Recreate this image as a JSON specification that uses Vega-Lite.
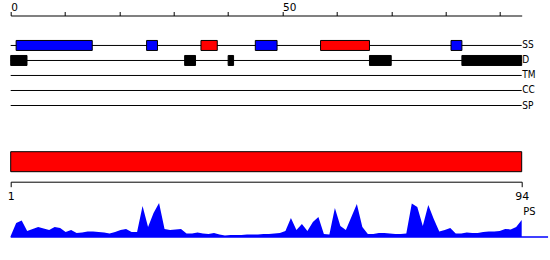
{
  "$schema": "https://vega.github.io/schema/vega-lite/v6.json",
  "padding": {"left": 6.7, "top": 2.5, "right": 0, "bottom": 0},
  "bounds": "flush",
  "spacing": 30.2,
  "config": {"view": {"stroke": null}, "axis": {"grid": false}},
  "datasets": {
    "tracks": [
      {"track": "SS", "start": 0, "end": 94},
      {"track": "D", "start": 0, "end": 94},
      {"track": "TM", "start": 0, "end": 94},
      {"track": "CC", "start": 0, "end": 94},
      {"track": "SP", "start": 0, "end": 94}
    ],
    "features": [
      {"track": "SS", "type": "E", "start": 1, "end": 15},
      {"track": "SS", "type": "E", "start": 25, "end": 27},
      {"track": "SS", "type": "H", "start": 35, "end": 38},
      {"track": "SS", "type": "E", "start": 45, "end": 49},
      {"track": "SS", "type": "H", "start": 57, "end": 66},
      {"track": "SS", "type": "E", "start": 81, "end": 83},
      {"track": "D", "type": "D", "start": 0, "end": 3},
      {"track": "D", "type": "D", "start": 32, "end": 34},
      {"track": "D", "type": "D", "start": 40, "end": 41},
      {"track": "D", "type": "D", "start": 66, "end": 70},
      {"track": "D", "type": "D", "start": 83, "end": 94}
    ],
    "full": [{"name": "protein", "start": 1, "end": 94}],
    "baseline": [{"start": 1, "end": 98.8, "level": 0}],
    "ps": [
      {"r":1,"v":1},{"r":2,"v":14},{"r":3,"v":16.5},{"r":4,"v":6},{"r":5,"v":8},{"r":6,"v":10},{"r":7,"v":8.5},{"r":8,"v":7},{"r":9,"v":10},{"r":10,"v":9},
      {"r":11,"v":5},{"r":12,"v":7},{"r":13,"v":4},{"r":14,"v":4.5},{"r":15,"v":5.5},{"r":16,"v":5.5},{"r":17,"v":5},{"r":18,"v":4.5},{"r":19,"v":3.5},{"r":20,"v":5},
      {"r":21,"v":7},{"r":22,"v":8},{"r":23,"v":5},{"r":24,"v":5},{"r":25,"v":31},{"r":26,"v":10},{"r":27,"v":24},{"r":28,"v":34},{"r":29,"v":8},{"r":30,"v":7},
      {"r":31,"v":7.5},{"r":32,"v":8},{"r":33,"v":3.5},{"r":34,"v":3.5},{"r":35,"v":4.5},{"r":36,"v":3.5},{"r":37,"v":3},{"r":38,"v":4},{"r":39,"v":2.5},{"r":40,"v":1.5},
      {"r":41,"v":2},{"r":42,"v":2},{"r":43,"v":2},{"r":44,"v":2.5},{"r":45,"v":2.5},{"r":46,"v":2.5},{"r":47,"v":3},{"r":48,"v":3},{"r":49,"v":3.5},{"r":50,"v":4},
      {"r":51,"v":6},{"r":52,"v":19},{"r":53,"v":7},{"r":54,"v":13},{"r":55,"v":6},{"r":56,"v":15},{"r":57,"v":20},{"r":58,"v":3},{"r":59,"v":2.5},{"r":60,"v":29},
      {"r":61,"v":11},{"r":62,"v":7},{"r":63,"v":20},{"r":64,"v":33},{"r":65,"v":10},{"r":66,"v":3},{"r":67,"v":3},{"r":68,"v":4},{"r":69,"v":4},{"r":70,"v":3.5},
      {"r":71,"v":3},{"r":72,"v":3},{"r":73,"v":3.5},{"r":74,"v":33.5},{"r":75,"v":30},{"r":76,"v":11},{"r":77,"v":32},{"r":78,"v":18},{"r":79,"v":5.5},{"r":80,"v":7},
      {"r":81,"v":9},{"r":82,"v":3.5},{"r":83,"v":3.5},{"r":84,"v":4.5},{"r":85,"v":4},{"r":86,"v":4},{"r":87,"v":5},{"r":88,"v":5.5},{"r":89,"v":5.5},{"r":90,"v":6},
      {"r":91,"v":8},{"r":92,"v":7.5},{"r":93,"v":10},{"r":94,"v":17}
    ]
  },
  "vconcat": [
    {
      "width": 511,
      "height": 105.1,
      "layer": [
        {
          "data": {"name": "tracks"},
          "mark": {"type": "rule", "color": "black", "strokeWidth": 1},
          "encoding": {
            "x": {
              "field": "start", "type": "quantitative",
              "scale": {"domain": [0, 94], "nice": false, "zero": false},
              "axis": {
                "orient": "top", "title": null,
                "values": [0, 10, 20, 30, 40, 50, 60, 70, 80, 90],
                "labelExpr": "datum.value == 0 || datum.value == 50 ? datum.label : ''",
                "labelFont": "DejaVu Sans", "labelFontSize": 10.5, "labelColor": "black",
                "labelAlign": "left", "labelFlush": false, "labelOverlap": false,
                "tickSize": 4, "tickColor": "black", "domainColor": "black",
                "labelPadding": -1
              }
            },
            "x2": {"field": "end"},
            "y": {
              "field": "track", "type": "nominal",
              "scale": {"domain": ["SS", "D", "TM", "CC", "SP"], "paddingInner": 0, "paddingOuter": 1.0033, "align": 0.7475},
              "axis": {
                "orient": "right", "title": null, "domain": false, "ticks": false,
                "labelPadding": 0, "labelFont": "DejaVu Sans Condensed, Liberation Sans Narrow, sans-serif",
                "labelFontSize": 10, "labelColor": "black", "labelBaseline": "middle"
              }
            }
          }
        },
        {
          "data": {"name": "features"},
          "mark": {"type": "bar", "height": 10, "stroke": "black", "strokeWidth": 1},
          "encoding": {
            "x": {"field": "start", "type": "quantitative"},
            "x2": {"field": "end"},
            "y": {"field": "track", "type": "nominal"},
            "fill": {
              "field": "type", "type": "nominal",
              "scale": {"domain": ["H", "E", "D"], "range": ["#ff0000", "#0000ff", "#000000"]},
              "legend": null
            }
          }
        }
      ]
    },
    {
      "width": 511,
      "height": 20,
      "data": {"name": "full"},
      "mark": {"type": "bar", "fill": "#ff0000", "stroke": "black", "strokeWidth": 1},
      "encoding": {
        "x": {
          "field": "start", "type": "quantitative",
          "scale": {"domain": [1, 94], "nice": false, "zero": false},
          "axis": {
            "orient": "bottom", "title": null, "values": [1, 94], "offset": 10,
            "tickSize": 5, "tickColor": "black", "domainColor": "black",
            "labelFont": "DejaVu Sans", "labelFontSize": 11, "labelColor": "black",
            "labelPadding": 3.5, "labelFlush": false, "labelOverlap": false
          }
        },
        "x2": {"field": "end"},
        "y": {
          "field": "name", "type": "nominal",
          "scale": {"paddingInner": 0, "paddingOuter": 0},
          "axis": null
        }
      }
    },
    {
      "width": 511,
      "height": 35,
      "layer": [
        {
          "data": {"name": "ps"},
          "mark": {"type": "area", "color": "#0000ff", "interpolate": "linear"},
          "encoding": {
            "x": {
              "field": "r", "type": "quantitative",
              "scale": {"domain": [1, 94], "nice": false, "zero": false},
              "axis": null
            },
            "y": {
              "field": "v", "type": "quantitative",
              "scale": {"domain": [0, 35], "nice": false},
              "axis": {
                "orient": "right", "domain": false, "ticks": false, "labels": false,
                "title": "PS", "titleAngle": 0, "titleAlign": "left", "titleBaseline": "middle",
                "titleX": 1, "titleY": 10,
                "titleFont": "DejaVu Sans Condensed, Liberation Sans Narrow, sans-serif",
                "titleFontSize": 11, "titleFontWeight": "normal", "titleColor": "black"
              }
            }
          }
        },
        {
          "data": {"name": "baseline"},
          "mark": {"type": "rule", "color": "#0000ff", "strokeWidth": 1.5},
          "encoding": {
            "x": {"field": "start", "type": "quantitative"},
            "x2": {"field": "end"},
            "y": {"field": "level", "type": "quantitative"}
          }
        }
      ]
    }
  ]
}
